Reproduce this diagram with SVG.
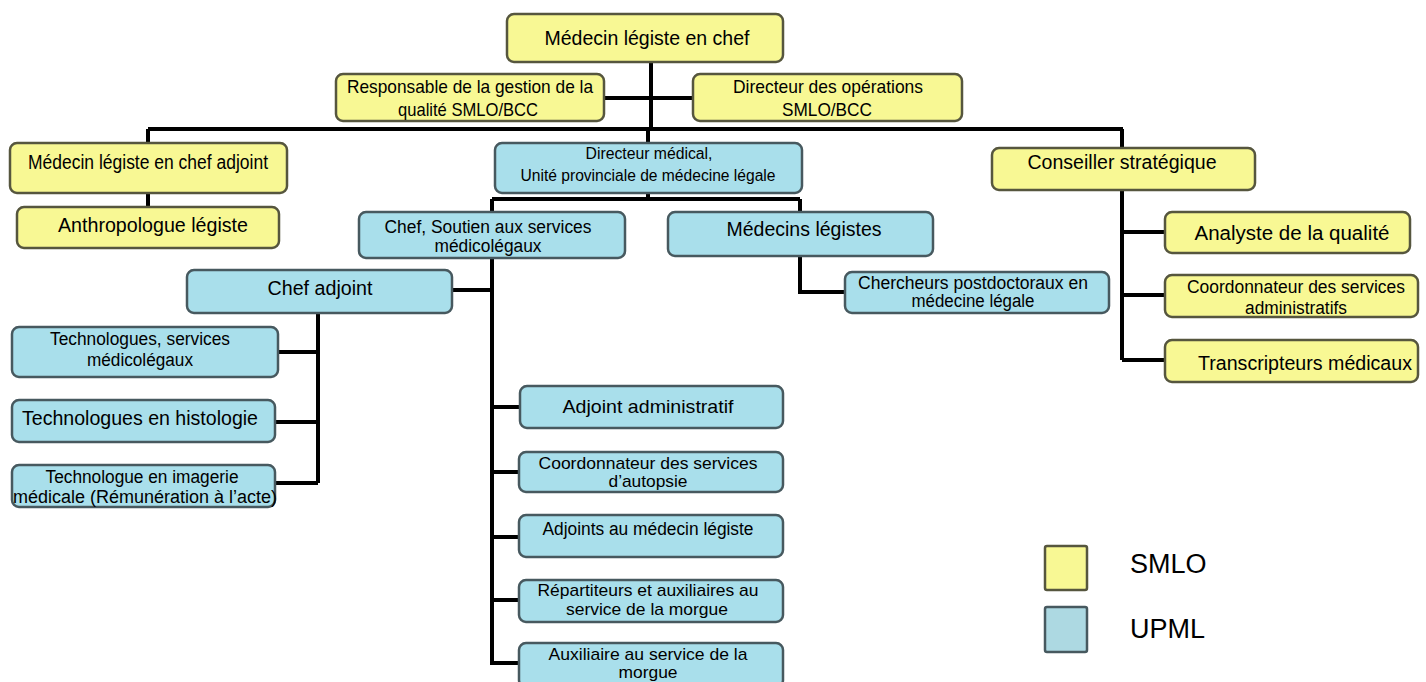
<svg xmlns="http://www.w3.org/2000/svg" width="1426" height="682" viewBox="0 0 1426 682">
<style>
.y{fill:#f8f894;stroke:#56563e;stroke-width:2.5}
.b{fill:#a9dfeb;stroke:#47595f;stroke-width:2.5}
text{font-family:"Liberation Sans",Arial,sans-serif;fill:#000;text-anchor:middle}
.c path{fill:none;stroke:#000;stroke-width:4}
.lg{text-anchor:start;font-size:27px}
</style>
<rect width="1426" height="682" fill="#fff"/>
<g class="c" id="connectors">
<path d="M651 62V129"/>
<path d="M604 98H693"/>
<path d="M148 129H1123"/>
<path d="M148 129V143M148 193V207"/>
<path d="M648 129V143M648 193V199M492 199H800M492 199V212M800 199V212"/>
<path d="M492 258V665M452 290H492M492 407H520M492 472H519M492 537H519M492 600H519M492 663H519"/>
<path d="M318 313V483M278 352H318M275 422H318M275 483H318"/>
<path d="M800 256V292H845"/>
<path d="M1122 129V148M1122 190V360M1122 232H1165M1122 295H1165M1122 360H1165"/>
</g>
<g id="chef"><rect class="y" x="507" y="14" width="276" height="48" rx="7"/><text x="647" y="45" font-size="20" textLength="205" lengthAdjust="spacingAndGlyphs">Médecin légiste en chef</text></g>
<g id="qualite"><rect class="y" x="336" y="74" width="268" height="47" rx="7"/><text x="470" y="93" font-size="19" textLength="246" lengthAdjust="spacingAndGlyphs">Responsable de la gestion de la</text><text x="468" y="116" font-size="19" textLength="140" lengthAdjust="spacingAndGlyphs">qualité SMLO/BCC</text></g>
<g id="operations"><rect class="y" x="693" y="74" width="269" height="47" rx="7"/><text x="828" y="93" font-size="19" textLength="190" lengthAdjust="spacingAndGlyphs">Directeur des opérations</text><text x="827" y="116" font-size="19" textLength="90" lengthAdjust="spacingAndGlyphs">SMLO/BCC</text></g>
<g id="chef-adjoint-smlo"><rect class="y" x="10" y="143" width="277" height="50" rx="7"/><text x="148" y="169" font-size="20" textLength="240" lengthAdjust="spacingAndGlyphs">Médecin légiste en chef adjoint</text></g>
<g id="anthropologue"><rect class="y" x="17" y="207" width="262" height="41" rx="7"/><text x="153" y="232" font-size="20" textLength="190" lengthAdjust="spacingAndGlyphs">Anthropologue légiste</text></g>
<g id="conseiller"><rect class="y" x="992" y="148" width="263" height="42" rx="7"/><text x="1122" y="169" font-size="20" textLength="189" lengthAdjust="spacingAndGlyphs">Conseiller stratégique</text></g>
<g id="analyste"><rect class="y" x="1165" y="212" width="245" height="41" rx="7"/><text x="1292" y="240" font-size="20" textLength="195" lengthAdjust="spacingAndGlyphs">Analyste de la qualité</text></g>
<g id="coord-admin"><rect class="y" x="1165" y="275" width="253" height="42" rx="7"/><text x="1296" y="293" font-size="18" textLength="218" lengthAdjust="spacingAndGlyphs">Coordonnateur des services</text><text x="1296" y="314" font-size="18" textLength="102" lengthAdjust="spacingAndGlyphs">administratifs</text></g>
<g id="transcripteurs"><rect class="y" x="1165" y="340" width="253" height="42" rx="7"/><text x="1305" y="370" font-size="20" textLength="214" lengthAdjust="spacingAndGlyphs">Transcripteurs médicaux</text></g>
<g id="dir-medical"><rect class="b" x="495" y="143" width="307" height="50" rx="7"/><text x="649" y="159" font-size="16" textLength="127" lengthAdjust="spacingAndGlyphs">Directeur médical,</text><text x="648" y="181" font-size="16" textLength="255" lengthAdjust="spacingAndGlyphs">Unité provinciale de médecine légale</text></g>
<g id="chef-soutien"><rect class="b" x="359" y="212" width="266" height="46" rx="7"/><text x="488" y="233" font-size="18" textLength="207" lengthAdjust="spacingAndGlyphs">Chef, Soutien aux services</text><text x="488" y="252" font-size="18" textLength="107" lengthAdjust="spacingAndGlyphs">médicolégaux</text></g>
<g id="medecins-legistes"><rect class="b" x="668" y="212" width="265" height="44" rx="7"/><text x="804" y="236" font-size="20" textLength="155" lengthAdjust="spacingAndGlyphs">Médecins légistes</text></g>
<g id="chercheurs"><rect class="b" x="845" y="272" width="264" height="41" rx="7"/><text x="973" y="289" font-size="18" textLength="230" lengthAdjust="spacingAndGlyphs">Chercheurs postdoctoraux en</text><text x="973" y="307" font-size="18" textLength="123" lengthAdjust="spacingAndGlyphs">médecine légale</text></g>
<g id="chef-adjoint"><rect class="b" x="187" y="270" width="265" height="43" rx="7"/><text x="320" y="295" font-size="20" textLength="105" lengthAdjust="spacingAndGlyphs">Chef adjoint</text></g>
<g id="tech-ml"><rect class="b" x="12" y="327" width="266" height="50" rx="7"/><text x="140" y="345" font-size="18" textLength="180" lengthAdjust="spacingAndGlyphs">Technologues, services</text><text x="140" y="366" font-size="18" textLength="106" lengthAdjust="spacingAndGlyphs">médicolégaux</text></g>
<g id="histologie"><rect class="b" x="12" y="400" width="263" height="42" rx="7"/><text x="140" y="425" font-size="20" textLength="236" lengthAdjust="spacingAndGlyphs">Technologues en histologie</text></g>
<g id="imagerie"><rect class="b" x="12" y="465" width="263" height="42" rx="7"/><text x="142" y="483" font-size="18" textLength="193" lengthAdjust="spacingAndGlyphs">Technologue en imagerie</text><text x="145" y="503" font-size="18" textLength="264" lengthAdjust="spacingAndGlyphs">médicale (Rémunération à l’acte)</text></g>
<g id="adj-admin"><rect class="b" x="520" y="386" width="263" height="42" rx="7"/><text x="648" y="413" font-size="19" textLength="171" lengthAdjust="spacingAndGlyphs">Adjoint administratif</text></g>
<g id="coord-autopsie"><rect class="b" x="519" y="452" width="264" height="40" rx="7"/><text x="648" y="469" font-size="17" textLength="219" lengthAdjust="spacingAndGlyphs">Coordonnateur des services</text><text x="648" y="487" font-size="17" textLength="79" lengthAdjust="spacingAndGlyphs">d’autopsie</text></g>
<g id="adj-medecin"><rect class="b" x="519" y="515" width="264" height="42" rx="7"/><text x="648" y="535" font-size="18" textLength="211" lengthAdjust="spacingAndGlyphs">Adjoints au médecin légiste</text></g>
<g id="repartiteurs"><rect class="b" x="519" y="580" width="264" height="42" rx="7"/><text x="648" y="596" font-size="17" textLength="221" lengthAdjust="spacingAndGlyphs">Répartiteurs et auxiliaires au</text><text x="647" y="615" font-size="17" textLength="162" lengthAdjust="spacingAndGlyphs">service de la morgue</text></g>
<g id="auxiliaire"><rect class="b" x="519" y="643" width="264" height="44" rx="7"/><text x="648" y="660" font-size="17" textLength="199" lengthAdjust="spacingAndGlyphs">Auxiliaire au service de la</text><text x="648" y="678" font-size="17" textLength="59" lengthAdjust="spacingAndGlyphs">morgue</text></g>
<g id="legend">
<rect x="1045" y="546" width="42" height="44" rx="2" fill="#f8f894" stroke="#56563e" stroke-width="2.5"/>
<text class="lg" x="1130" y="573">SMLO</text>
<rect x="1045" y="607" width="42" height="45" rx="2" fill="#add9e2" stroke="#47595f" stroke-width="2.5"/>
<text class="lg" x="1130" y="638">UPML</text>
</g>
</svg>
